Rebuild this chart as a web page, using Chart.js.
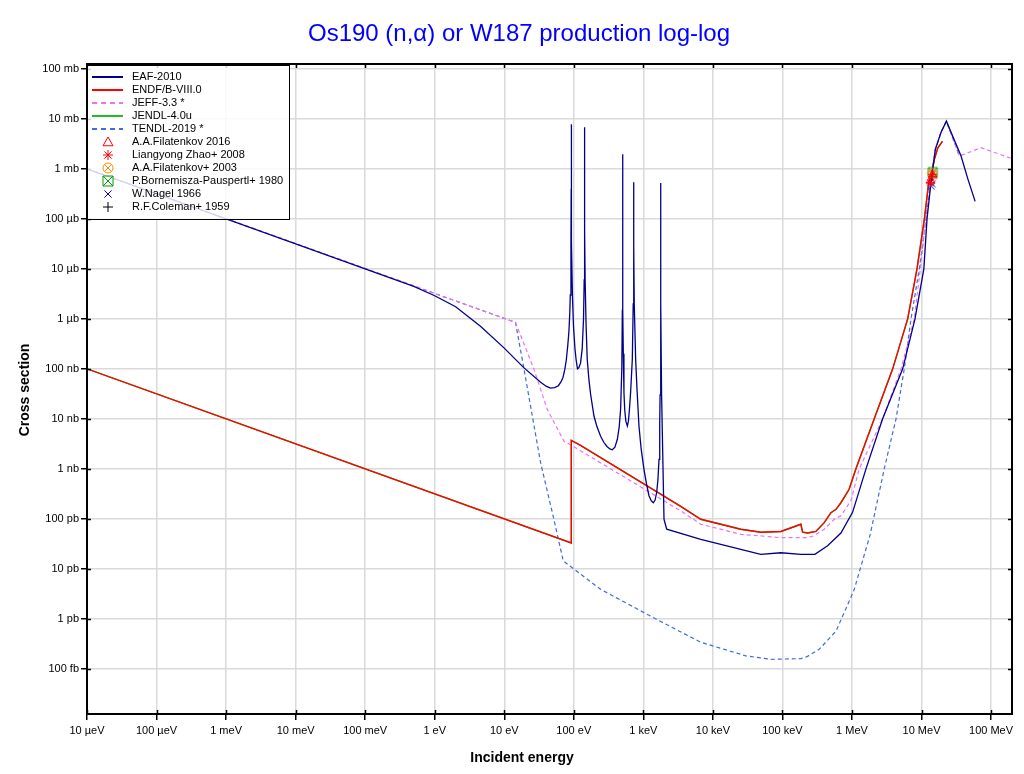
<!DOCTYPE html>
<html>
<head>
<meta charset="utf-8">
<title>Os190 (n,α) or W187 production log-log</title>
<script src="https://cdn.jsdelivr.net/npm/chart.js@4.4.1/dist/chart.umd.min.js"></script>
<style>
  html, body { margin: 0; padding: 0; background: #fff; }
  #wrap { width: 1024px; height: 774px; }
</style>
</head>
<body>
<div id="wrap"><canvas id="xsChart" width="1024" height="774"></canvas></div>
<script>
// --- Axis ticks (energy in eV, cross section in barns) ---
const xTickValues = [1e-5, 1e-4, 1e-3, 1e-2, 1e-1, 1, 10, 100, 1e3, 1e4, 1e5, 1e6, 1e7, 1e8];
const xTickLabels = ['10 µeV', '100 µeV', '1 meV', '10 meV', '100 meV', '1 eV', '10 eV', '100 eV',
                     '1 keV', '10 keV', '100 keV', '1 MeV', '10 MeV', '100 MeV'];
const yTickValues = [1e-13, 1e-12, 1e-11, 1e-10, 1e-9, 1e-8, 1e-7, 1e-6, 1e-5, 1e-4, 1e-3, 1e-2, 1e-1];
const yTickLabels = ['100 fb', '1 pb', '10 pb', '100 pb', '1 nb', '10 nb', '100 nb',
                     '1 µb', '10 µb', '100 µb', '1 mb', '10 mb', '100 mb'];

// --- Evaluated libraries ---
const eafE = [1e-5, 0.5, 1.0, 2.0, 4.55, 10, 18.9, 33.3, 40, 46, 53, 60, 66, 70, 74, 78, 82, 85, 87.5, 89,
              91, 91.7, 92, 92.3, 93, 95.5, 99, 104, 108, 113, 118, 125, 132, 138, 141, 142.5, 143, 143.5, 145.5, 150,
              156, 165, 175, 195, 215, 243, 270, 300, 330, 358, 390, 423, 450, 471, 490, 499, 503, 504, 505, 509,
              515, 526, 540, 560, 589, 610, 630, 656, 694, 715, 725, 727, 729, 740, 775, 810, 865, 930, 1021, 1110,
              1205, 1300, 1393, 1480, 1556, 1620, 1680, 1720, 1740, 1770, 1778, 1786, 1830, 1982, 2168, 6700, 2.52e4, 4.89e4, 9.5e4, 1.84e5,
              2.93e5, 4.46e5, 6.93e5, 1.02e6, 1.59e6, 2.76e6, 5.36e6, 8.06e6, 1.08e7, 1.2e7, 1.37e7, 1.58e7, 1.91e7,
              2.28e7, 3.7e7, 4.67e7, 5.9e7];
const eafXs = [1.0e-3, 4.47e-6, 2.9e-6, 1.75e-6, 7.1e-7, 2.6e-7, 1.07e-7, 5.4e-8, 4.5e-8, 4.1e-8, 4.2e-8, 4.6e-8, 5.6e-8, 6.8e-8, 9.5e-8, 1.5e-7, 3e-7, 5.5e-7, 1.3e-6, 3e-6,
               3.5e-5, 4e-4, 7.8e-3, 4e-4, 3.5e-5, 3e-6, 7e-7, 2.5e-7, 1.5e-7, 1.0e-7, 1.05e-7, 1.3e-7, 2.5e-7, 1.0e-6, 6e-6, 6e-5, 6.8e-3, 6e-5, 6e-6, 8e-7,
               1.55e-7, 6e-8, 3e-8, 1.14e-8, 7e-9, 4.5e-9, 3.4e-9, 2.8e-9, 2.5e-9, 2.4e-9, 2.7e-9, 3.9e-9, 7e-9, 1.55e-8, 1e-7, 1.5e-6, 3e-5, 1.95e-3, 3e-5, 1.5e-6,
               2e-7, 3.4e-8, 1.5e-8, 9e-9, 7.2e-9, 9e-9, 1.5e-8, 3.4e-8, 1.55e-7, 2e-6, 3e-5, 5.4e-4, 3e-5, 2e-6, 1.55e-7, 4e-8, 7.2e-9, 2.5e-9, 9.8e-10, 5e-10,
               2.9e-10, 2.3e-10, 2.1e-10, 2.4e-10, 3.4e-10, 6e-10, 1.55e-9, 8e-9, 3e-8, 2e-6, 5.2e-4, 2e-6, 3e-8, 9.8e-11, 6.2e-11, 3.9e-11, 2.45e-11, 1.95e-11, 2.1e-11, 1.95e-11,
               1.95e-11, 2.9e-11, 5.2e-11, 1.35e-10, 1e-9, 1e-8, 1e-7, 1e-6, 1e-5, 1e-4, 5.4e-4, 2.45e-3, 5.4e-3,
               9e-3, 1.8e-3, 6.1e-4, 2.24e-4];

const endfE = [1e-5, 92, 92, 125, 3450, 6700, 2.52e4, 4.89e4, 9.5e4, 1.84e5, 1.95e5, 2.3e5, 3.03e5, 3.99e5, 4.98e5,
               5.9e5, 6.93e5, 9.1e5, 1.14e6, 2.09e6, 3.85e6, 6.32e6, 8.61e6, 1.1e7, 1.27e7, 1.37e7, 1.53e7, 1.71e7, 2e7];
const endfXs = [1.0e-7, 3.3e-11, 3.7e-9, 2.95e-9, 1.78e-10, 9.8e-11, 6.2e-11, 5.4e-11, 5.6e-11, 7.8e-11, 5.4e-11, 5.2e-11, 5.6e-11, 8.4e-11, 1.33e-10,
                1.55e-10, 2.1e-10, 3.9e-10, 1e-9, 1e-8, 1e-7, 1e-6, 1e-5, 1e-4, 5.4e-4, 7.2e-4, 1.55e-3, 2.6e-3, 3.55e-3];

// JENDL-4.0u sits right under ENDF/B-VIII.0 on this plot
const jendlE = endfE;
const jendlXs = endfXs;

const jeffE = [1e-5, 14.5, 26.6, 41.5, 72, 95, 125, 3450, 6700, 2.52e4, 4.89e4, 9.5e4, 2.3e5, 2.8e5, 3.99e5, 5.56e5,
               6.93e5, 9.66e5, 1.27e6, 2.76e6, 5.07e6, 7.87e6, 9.61e6, 1.16e7, 1.37e7, 1.58e7, 1.91e7, 2.28e7, 3.5e7, 7.18e7, 2e8];
const jeffXs = [1.0e-3, 8.5e-7, 1e-7, 1.55e-8, 3.6e-9, 2.9e-9, 2.3e-9, 1.44e-10, 7.8e-11, 4.9e-11, 4.55e-11, 4.2e-11, 4.2e-11, 4.55e-11, 6.2e-11, 9.8e-11,
                1.15e-10, 2.3e-10, 1e-9, 1e-8, 1e-7, 1e-6, 1e-5, 1e-4, 6e-4, 2.5e-3, 5.4e-3, 9e-3, 1.8e-3, 2.65e-3, 1.6e-3];

const tendlE = [1e-5, 14.5, 19.2, 33.3, 51.7, 70.5, 243, 1500, 6700, 2.97e4, 6.8e4, 1.84e5, 2.25e5, 3.37e5, 5.9e5,
                9.1e5, 1.08e6, 1.83e6, 2.91e6, 4.3e6, 5.65e6, 7.06e6, 9.29e6, 1.16e7, 1.37e7, 1.58e7, 1.91e7, 2.28e7, 3.5e7];
const tendlXs = [1.0e-3, 8.5e-7, 1e-7, 1.33e-9, 9.8e-11, 1.44e-11, 3.9e-12, 1e-12, 3.4e-13, 1.82e-13, 1.55e-13, 1.6e-13, 1.75e-13, 2.45e-13, 5.7e-13,
                 2.24e-12, 3.9e-12, 4.9e-11, 1e-9, 1e-8, 1e-7, 1e-6, 1e-5, 1e-4, 6.2e-4, 2.45e-3, 5.4e-3, 9e-3, 1.8e-3];

// --- Experimental points (all around 14 MeV) ---
const fil16E = [1.35e7, 1.45e7];   const fil16Xs = [6.0e-4, 7.6e-4];
const zhaoE = [1.34e7, 1.43e7];    const zhaoXs = [5.3e-4, 7.8e-4];
const fil03E = [1.42e7];           const fil03Xs = [8.2e-4];
const bornE = [1.45e7];            const bornXs = [8.6e-4];
const nagelE = [1.38e7, 1.42e7];   const nagelXs = [4.5e-4, 5.0e-4];
const colemanE = [1.44e7];         const colemanXs = [7.0e-4];

// --- Helpers ---
function pts(es, xs) {
    return es.map((e, i) => ({ x: e, y: xs[i] }));
}

function drawMarker(ctx, kind, x, y, r, color) {
    ctx.save();
    ctx.strokeStyle = color;
    ctx.lineWidth = 1;
    ctx.beginPath();
    const d = r * 0.72;
    if (kind === 'triangle') {
        ctx.moveTo(x, y - r);
        ctx.lineTo(x + r, y + r * 0.75);
        ctx.lineTo(x - r, y + r * 0.75);
        ctx.closePath();
    } else if (kind === 'star') {
        ctx.moveTo(x, y - r); ctx.lineTo(x, y + r);
        ctx.moveTo(x - r, y); ctx.lineTo(x + r, y);
        ctx.moveTo(x - d, y - d); ctx.lineTo(x + d, y + d);
        ctx.moveTo(x - d, y + d); ctx.lineTo(x + d, y - d);
    } else if (kind === 'circlex') {
        ctx.arc(x, y, r, 0, Math.PI * 2);
        ctx.moveTo(x - d, y - d); ctx.lineTo(x + d, y + d);
        ctx.moveTo(x - d, y + d); ctx.lineTo(x + d, y - d);
    } else if (kind === 'boxx') {
        ctx.rect(x - r, y - r, 2 * r, 2 * r);
        ctx.moveTo(x - r, y - r); ctx.lineTo(x + r, y + r);
        ctx.moveTo(x - r, y + r); ctx.lineTo(x + r, y - r);
    } else if (kind === 'x') {
        ctx.moveTo(x - d, y - d); ctx.lineTo(x + d, y + d);
        ctx.moveTo(x - d, y + d); ctx.lineTo(x + d, y - d);
    } else if (kind === 'plus') {
        ctx.moveTo(x, y - r); ctx.lineTo(x, y + r);
        ctx.moveTo(x - r, y); ctx.lineTo(x + r, y);
    }
    ctx.stroke();
    ctx.restore();
}

function markerImage(kind, color) {
    const c = document.createElement('canvas');
    c.width = 13; c.height = 13;
    drawMarker(c.getContext('2d'), kind, 6.5, 6.5, 4.5, color);
    return c;
}

function lineSet(label, es, xs, color, dash, width, order) {
    return {
        type: 'line', label: label, data: pts(es, xs),
        borderColor: color, borderWidth: width, borderDash: dash,
        pointRadius: 0, tension: 0, fill: false, order: order
    };
}

function pointSet(label, es, xs, kind, color) {
    return {
        type: 'scatter', label: label, data: pts(es, xs),
        marker: kind, borderColor: color, backgroundColor: color,
        pointStyle: markerImage(kind, color), pointRadius: 5, order: 0
    };
}

// --- Plugin: frame, inner ticks, legend box and titles ---
const decorPlugin = {
    id: 'decor',
    afterDraw(chart) {
        const ctx = chart.ctx;
        const a = chart.chartArea;
        const xs = chart.scales.x, ys = chart.scales.y;
        ctx.save();

        // frame
        ctx.strokeStyle = '#000';
        ctx.lineWidth = 2;
        ctx.strokeRect(a.left, a.top, a.right - a.left, a.bottom - a.top);

        // small inside ticks
        ctx.lineWidth = 1.5;
        ctx.beginPath();
        xTickValues.forEach(v => {
            const px = Math.round(xs.getPixelForValue(v)) + 0.5;
            ctx.moveTo(px, a.bottom); ctx.lineTo(px, a.bottom - 4);
            ctx.moveTo(px, a.top); ctx.lineTo(px, a.top + 4);
        });
        yTickValues.forEach(v => {
            const py = Math.round(ys.getPixelForValue(v)) + 0.5;
            ctx.moveTo(a.left, py); ctx.lineTo(a.left + 4, py);
            ctx.moveTo(a.right, py); ctx.lineTo(a.right - 4, py);
        });
        ctx.stroke();

        // legend
        const lx = a.left, ly = a.top + 1, lw = 202, lh = 154;
        ctx.fillStyle = 'rgba(255,255,255,0.82)';
        ctx.fillRect(lx, ly, lw, lh);
        ctx.strokeStyle = '#000';
        ctx.lineWidth = 1;
        ctx.strokeRect(lx + 0.5, ly + 0.5, lw, lh);
        ctx.font = '11px "Liberation Sans", Arial, sans-serif';
        ctx.textBaseline = 'middle';
        ctx.textAlign = 'left';
        chart.data.datasets.forEach((ds, i) => {
            const cy = ly + 12 + i * 13;
            if (ds.marker) {
                drawMarker(ctx, ds.marker, lx + 21, cy, 5, ds.borderColor);
            } else {
                ctx.save();
                ctx.strokeStyle = ds.borderColor;
                ctx.lineWidth = 2;
                ctx.setLineDash(ds.borderDash.length ? [5, 4] : []);
                ctx.beginPath();
                ctx.moveTo(lx + 5, cy); ctx.lineTo(lx + 36, cy);
                ctx.stroke();
                ctx.restore();
            }
            ctx.fillStyle = '#000';
            ctx.fillText(ds.label, lx + 45, cy);
        });

        // titles
        ctx.textAlign = 'center';
        ctx.fillStyle = '#0000ff';
        ctx.font = '24px "Liberation Sans", Arial, sans-serif';
        ctx.fillText('Os190 (n,α) or W187 production log-log', 519, 34);
        ctx.fillStyle = '#000';
        ctx.font = 'bold 14px "Liberation Sans", Arial, sans-serif';
        ctx.fillText('Incident energy', 522, 758);
        ctx.translate(25, 390);
        ctx.rotate(-Math.PI / 2);
        ctx.fillText('Cross section', 0, 0);
        ctx.restore();
    }
};

Chart.defaults.font.family = '"Liberation Sans", Arial, sans-serif';
Chart.defaults.color = '#000';

const gridStyle = { color: '#dadada', lineWidth: 1.5, tickColor: '#000', tickLength: 6, tickWidth: 1.5 };

new Chart(document.getElementById('xsChart'), {
    data: {
        datasets: [
            lineSet('EAF-2010', eafE, eafXs, '#00008b', [], 1.3, 1),
            lineSet('ENDF/B-VIII.0', endfE, endfXs, '#ff0000', [], 1.4, 2),
            lineSet('JEFF-3.3 *', jeffE, jeffXs, '#f070f0', [4, 3], 1.2, 3),
            lineSet('JENDL-4.0u', jendlE, jendlXs, '#22bb22', [], 1.4, 4),
            lineSet('TENDL-2019 *', tendlE, tendlXs, '#4169e1', [4, 3], 1.2, 5),
            pointSet('A.A.Filatenkov 2016', fil16E, fil16Xs, 'triangle', '#ff0000'),
            pointSet('Liangyong Zhao+ 2008', zhaoE, zhaoXs, 'star', '#ff0000'),
            pointSet('A.A.Filatenkov+ 2003', fil03E, fil03Xs, 'circlex', '#ff8c00'),
            pointSet('P.Bornemisza-Pauspertl+ 1980', bornE, bornXs, 'boxx', '#00a000'),
            pointSet('W.Nagel 1966', nagelE, nagelXs, 'x', '#0000cc'),
            pointSet('R.F.Coleman+ 1959', colemanE, colemanXs, 'plus', '#000000')
        ]
    },
    options: {
        responsive: false,
        animation: false,
        layout: { padding: { left: 0, right: 12, top: 64, bottom: 0 } },
        plugins: { legend: { display: false }, tooltip: { enabled: false }, title: { display: false } },
        scales: {
            x: {
                type: 'logarithmic',
                min: 1e-5, max: 2e8,
                grid: gridStyle,
                border: { display: true, color: '#000', width: 2 },
                ticks: {
                    autoSkip: false, maxRotation: 0, padding: 4,
                    font: { size: 11 },
                    callback: (v, i) => xTickLabels[i]
                },
                afterBuildTicks: s => { s.ticks = xTickValues.map(v => ({ value: v })); },
                afterFit: s => { s.height = 60; }
            },
            y: {
                type: 'logarithmic',
                min: 1.25e-14, max: 0.125,
                grid: gridStyle,
                border: { display: true, color: '#000', width: 2 },
                ticks: {
                    autoSkip: false, padding: 2,
                    font: { size: 11 },
                    callback: (v, i) => yTickLabels[i]
                },
                afterBuildTicks: s => { s.ticks = yTickValues.map(v => ({ value: v })); },
                afterFit: s => { s.width = 87; }
            }
        }
    },
    plugins: [decorPlugin]
});
</script>
</body>
</html>
